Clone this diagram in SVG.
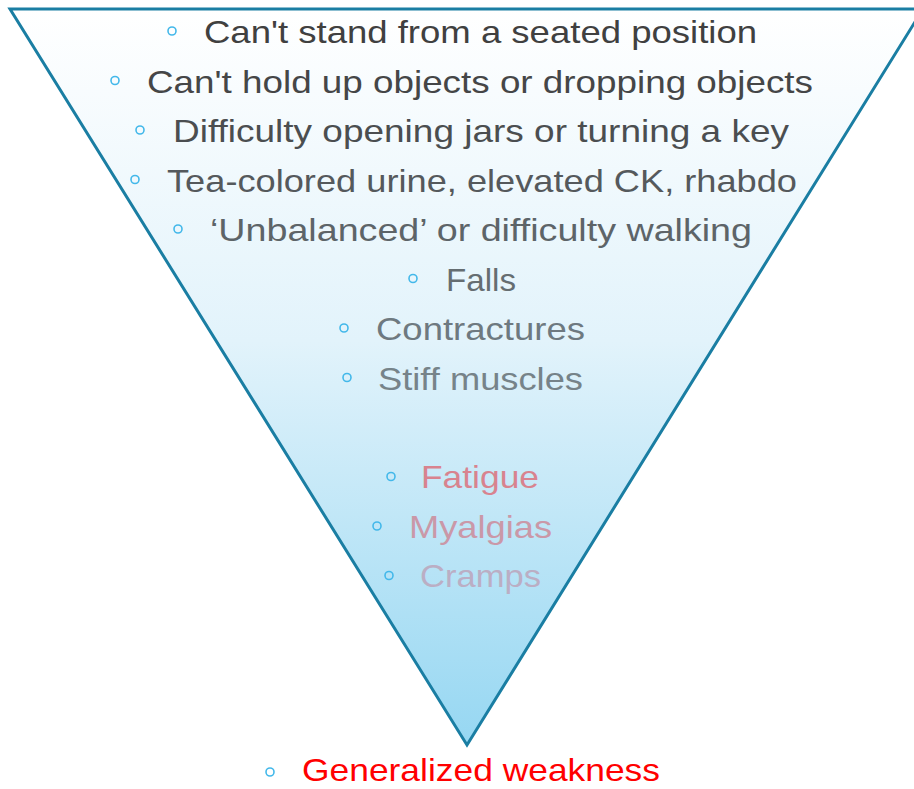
<svg xmlns="http://www.w3.org/2000/svg" width="914" height="789" viewBox="0 0 914 789">
  <defs>
    <linearGradient id="funnelFill" x1="0" y1="9" x2="0" y2="745" gradientUnits="userSpaceOnUse">
      <stop offset="0" stop-color="#ffffff"/>
      <stop offset="0.45" stop-color="#e2f3fb"/>
      <stop offset="1" stop-color="#96d7f2"/>
    </linearGradient>
  </defs>
  <style>
    .funnel { fill: url(#funnelFill); stroke: #1a7ea3; stroke-width: 3; stroke-linejoin: miter; }
    .bullet { fill: none; stroke: #43b8ea; stroke-width: 1.6; }
    .item { font-family: "Liberation Sans", Arial, sans-serif; font-size: 32px; }
  </style>
  <rect width="914" height="789" fill="#ffffff"/>

  <g id="funnel">
    <polygon class="funnel" points="10,9 923,9 467,745"/>
  </g>

  <g id="symptoms">
    <g id="item-stand">
      <circle class="bullet" cx="172" cy="31" r="4"/>
      <text class="item" x="204" y="43" textLength="553" lengthAdjust="spacingAndGlyphs" fill="#404040">Can't stand from a seated position</text>
    </g>
    <g id="item-hold">
      <circle class="bullet" cx="115" cy="80.5" r="4"/>
      <text class="item" x="147" y="92.5" textLength="666" lengthAdjust="spacingAndGlyphs" fill="#454647">Can't hold up objects or dropping objects</text>
    </g>
    <g id="item-jars">
      <circle class="bullet" cx="140" cy="130" r="4"/>
      <text class="item" x="173" y="142" textLength="616" lengthAdjust="spacingAndGlyphs" fill="#4b4e50">Difficulty opening jars or turning a key</text>
    </g>
    <g id="item-urine">
      <circle class="bullet" cx="135" cy="179.5" r="4"/>
      <text class="item" x="167" y="191.5" textLength="630" lengthAdjust="spacingAndGlyphs" fill="#55595c">Tea-colored urine, elevated CK, rhabdo</text>
    </g>
    <g id="item-balance">
      <circle class="bullet" cx="178" cy="229" r="4"/>
      <text class="item" x="210" y="241" textLength="542" lengthAdjust="spacingAndGlyphs" fill="#5d6468">‘Unbalanced’ or difficulty walking</text>
    </g>
    <g id="item-falls">
      <circle class="bullet" cx="413" cy="278.5" r="4"/>
      <text class="item" x="446" y="290.5" textLength="70" lengthAdjust="spacingAndGlyphs" fill="#656d71">Falls</text>
    </g>
    <g id="item-contractures">
      <circle class="bullet" cx="344" cy="328" r="4"/>
      <text class="item" x="376" y="340" textLength="209" lengthAdjust="spacingAndGlyphs" fill="#6e7980">Contractures</text>
    </g>
    <g id="item-stiff">
      <circle class="bullet" cx="347" cy="377.5" r="4"/>
      <text class="item" x="378" y="389.5" textLength="205" lengthAdjust="spacingAndGlyphs" fill="#768389">Stiff muscles</text>
    </g>
    <g id="item-fatigue">
      <circle class="bullet" cx="391" cy="476.5" r="4"/>
      <text class="item" x="421" y="488" textLength="118" lengthAdjust="spacingAndGlyphs" fill="#d8838f">Fatigue</text>
    </g>
    <g id="item-myalgias">
      <circle class="bullet" cx="377" cy="526" r="4"/>
      <text class="item" x="409" y="537.5" textLength="143" lengthAdjust="spacingAndGlyphs" fill="#ca98a8">Myalgias</text>
    </g>
    <g id="item-cramps">
      <circle class="bullet" cx="389" cy="575.5" r="4"/>
      <text class="item" x="420" y="587" textLength="121" lengthAdjust="spacingAndGlyphs" fill="#bbaec4">Cramps</text>
    </g>
  </g>

  <g id="outcome">
    <circle class="bullet" cx="270" cy="772" r="4"/>
    <text class="item" x="302" y="781" font-size="31" textLength="358" lengthAdjust="spacingAndGlyphs" fill="#ff0000">Generalized weakness</text>
  </g>
</svg>
